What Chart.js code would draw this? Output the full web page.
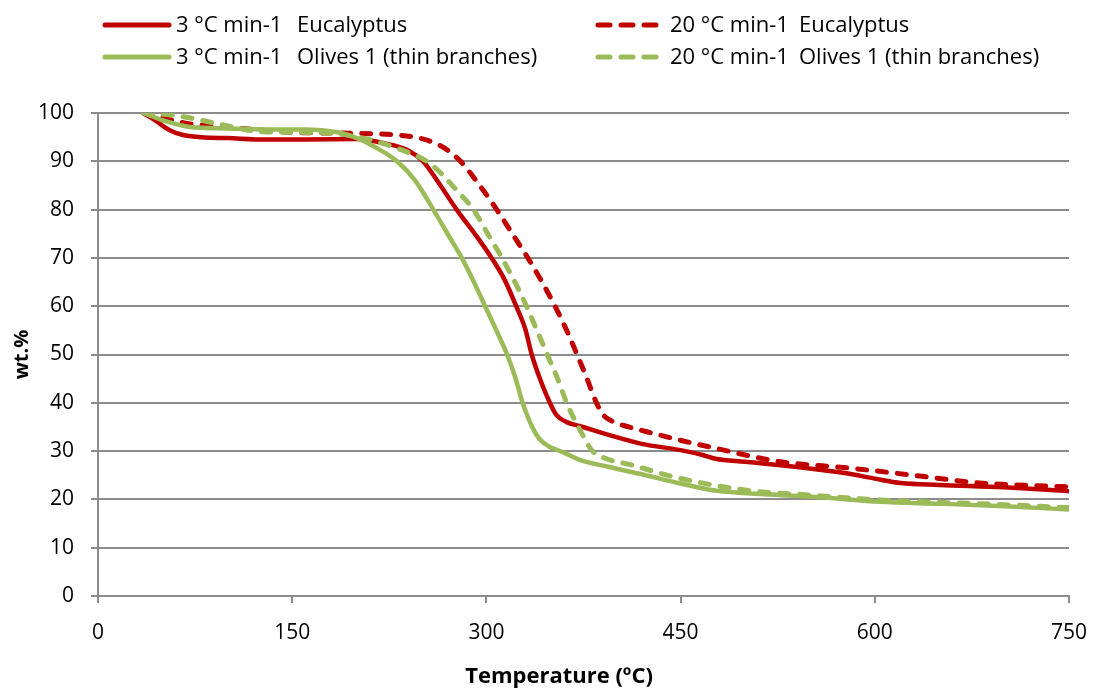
<!DOCTYPE html>
<html>
<head>
<meta charset="utf-8">
<script src="https://cdn.jsdelivr.net/npm/chart.js@4.4.1/dist/chart.umd.min.js"></script>
<style>
  html, body { margin: 0; padding: 0; background: #fff; overflow: hidden; }
  #wrap { width: 1093px; height: 691px; position: relative; }
</style>
</head>
<body>
<div id="wrap"><canvas id="tga"></canvas></div>
<script>
// TGA curves, temperature in degC vs remaining mass in wt.%
var tempEuc3 = [35, 45, 55, 65, 80, 100, 130, 160, 200, 220, 240, 251, 264, 277, 291, 304, 314, 323, 330, 335, 342, 349, 354, 362, 372, 395, 420, 450, 467, 477, 500, 540, 578, 600, 620, 650, 700, 750];
var wtEuc3   = [100, 98.3, 96.5, 95.5, 95, 94.8, 94.5, 94.5, 94.6, 93.8, 92.2, 90, 85.2, 80, 75, 70, 65.5, 60, 55.3, 50, 44.5, 40, 37.5, 36, 35.2, 33.3, 31.5, 30.2, 29.2, 28.4, 27.8, 26.7, 25.4, 24.3, 23.4, 23, 22.5, 21.7];

var tempEuc20 = [35, 50, 70, 90, 120, 150, 195, 233, 250, 260, 270, 280, 294, 308, 320, 332, 343, 353, 362, 370, 378, 385, 390, 397, 410, 430, 449, 480, 527, 580, 630, 681, 720, 750];
var wtEuc20   = [100, 99, 97.8, 97.3, 96.6, 96, 95.8, 95.4, 94.7, 93.8, 92.3, 90, 85.3, 80, 75, 70, 65, 60, 55, 50, 44.8, 40, 37.6, 36.2, 35, 33.6, 32.3, 30.4, 27.8, 26.5, 25, 23.4, 22.9, 22.6];

var tempOl3 = [35, 50, 71, 100, 130, 160, 185, 200, 215, 231, 245, 259, 270, 281, 290, 299, 308, 316, 322, 328, 335, 341, 348, 359, 372, 395, 420, 450, 475, 520, 560, 604, 650, 700, 750];
var wtOl3   = [100, 98.5, 97.1, 96.8, 96.6, 96.6, 96, 94.8, 92.8, 90, 86, 80, 75, 70, 65.2, 60, 54.8, 50, 45.5, 40, 35.2, 32.5, 31, 29.8, 28.2, 26.7, 25.2, 23.3, 21.9, 21, 20.4, 19.5, 19.1, 18.6, 17.9];

var tempOl20 = [35, 56, 71, 97, 127, 150, 180, 205, 220, 238, 254, 265, 277, 290, 301, 312, 322, 331, 339, 347, 355, 362, 372, 382, 392, 411, 449, 501, 550, 604, 650, 700, 750];
var wtOl20   = [100, 99.6, 99, 97.5, 96.1, 96, 95.8, 94.8, 93.7, 92, 90, 87.5, 84, 80, 75, 70, 65, 60, 55, 50, 45, 40, 34.5, 30, 28.5, 27.2, 24.4, 21.9, 20.9, 19.9, 19.4, 18.9, 18.3];

var rates = ['3 °C min-1', '20 °C min-1'];
var samples = ['Eucalyptus', 'Olives 1 (thin branches)'];

var xTicks = [0, 150, 300, 450, 600, 750];
var xTitle = 'Temperature (ºC)';

var RED = '#C00000';
var GREEN = '#9BBB59';
var FONT = '"Open Sans"';

function pts(xs, ys) {
  var out = [];
  for (var i = 0; i < xs.length; i++) out.push({x: xs[i], y: ys[i]});
  return out;
}

function series(rate, sample, xs, ys, color, dashed, order) {
  return {
    label: rate + '   ' + sample,
    rate: rate,
    sample: sample,
    data: pts(xs, ys),
    borderColor: color,
    backgroundColor: color,
    borderWidth: dashed ? 5 : 4.5,
    borderDash: dashed ? [9, 11] : [],
    borderCapStyle: dashed ? 'round' : 'butt',
    borderJoinStyle: 'round',
    cubicInterpolationMode: 'monotone',
    pointRadius: 0,
    fill: false,
    order: order
  };
}

// legend in two columns above the plot, plus the x axis title
var columnLegend = {
  id: 'columnLegend',
  afterDraw: function(chart) {
    var ctx = chart.ctx;
    var lineX = [103, 595], rateX = [176, 670], nameX = [297, 799], rowY = [25, 57];
    ctx.save();
    ctx.font = '22px ' + FONT;
    ctx.textBaseline = 'middle';
    ctx.fillStyle = '#000';
    chart.data.datasets.forEach(function(ds, i) {
      var col = i % 2, row = Math.floor(i / 2);
      var y = rowY[row];
      ctx.beginPath();
      ctx.strokeStyle = ds.borderColor;
      ctx.lineWidth = 5;
      ctx.lineCap = 'round';
      if (ds.borderDash.length) {
        ctx.setLineDash([12, 11]);
        ctx.moveTo(lineX[col] + 3, y);
        ctx.lineTo(lineX[col] + 65, y);
      } else {
        ctx.setLineDash([]);
        ctx.moveTo(lineX[col] + 2, y);
        ctx.lineTo(lineX[col] + 66, y);
      }
      ctx.stroke();
      ctx.fillText(ds.rate, rateX[col], y + 1);
      ctx.fillText(ds.sample, nameX[col], y + 1);
    });

    ctx.font = 'bold 22px ' + FONT;
    ctx.textAlign = 'center';
    ctx.fillText(xTitle, 559, 677);
    ctx.restore();
  }
};

new Chart(document.getElementById('tga'), {
  type: 'line',
  data: {
    datasets: [
      series(rates[0], samples[0], tempEuc3, wtEuc3, RED, false, 4),
      series(rates[1], samples[0], tempEuc20, wtEuc20, RED, true, 3),
      series(rates[0], samples[1], tempOl3, wtOl3, GREEN, false, 2),
      series(rates[1], samples[1], tempOl20, wtOl20, GREEN, true, 1)
    ]
  },
  options: {
    responsive: true,
    maintainAspectRatio: false,
    animation: false,
    layout: { padding: { top: 113, right: 24, bottom: 0, left: 0 } },
    plugins: {
      legend: { display: false },
      tooltip: { enabled: false }
    },
    scales: {
      x: {
        type: 'linear',
        min: 0,
        max: 750,
        afterBuildTicks: function(scale) {
          scale.ticks = xTicks.map(function(v) { return {value: v}; });
        },
        afterFit: function(scale) {
          scale.height = 95;
          scale.paddingLeft = 0;
          scale.paddingRight = 0;
        },
        grid: { drawOnChartArea: false, drawTicks: true, tickLength: 7, color: '#8c8c8c', lineWidth: 2 },
        border: { color: '#8c8c8c', width: 2 },
        ticks: { color: '#000', font: { family: FONT, size: 21 }, padding: 17, maxRotation: 0 }
      },
      y: {
        min: 0,
        max: 100,
        afterFit: function(scale) {
          scale.width = 98;
          scale.paddingTop = 0;
          scale.paddingBottom = 0;
        },
        grid: { drawTicks: true, tickLength: 7, color: '#8c8c8c', lineWidth: 2 },
        border: { color: '#8c8c8c', width: 2 },
        ticks: { stepSize: 10, color: '#000', font: { family: FONT, size: 21 }, padding: 17 },
        title: {
          display: true,
          text: 'wt.%',
          color: '#000',
          font: { family: FONT, size: 20, weight: 'bold' },
          padding: { top: 10, bottom: 0 }
        }
      }
    }
  },
  plugins: [columnLegend]
});
</script>
</body>
</html>
